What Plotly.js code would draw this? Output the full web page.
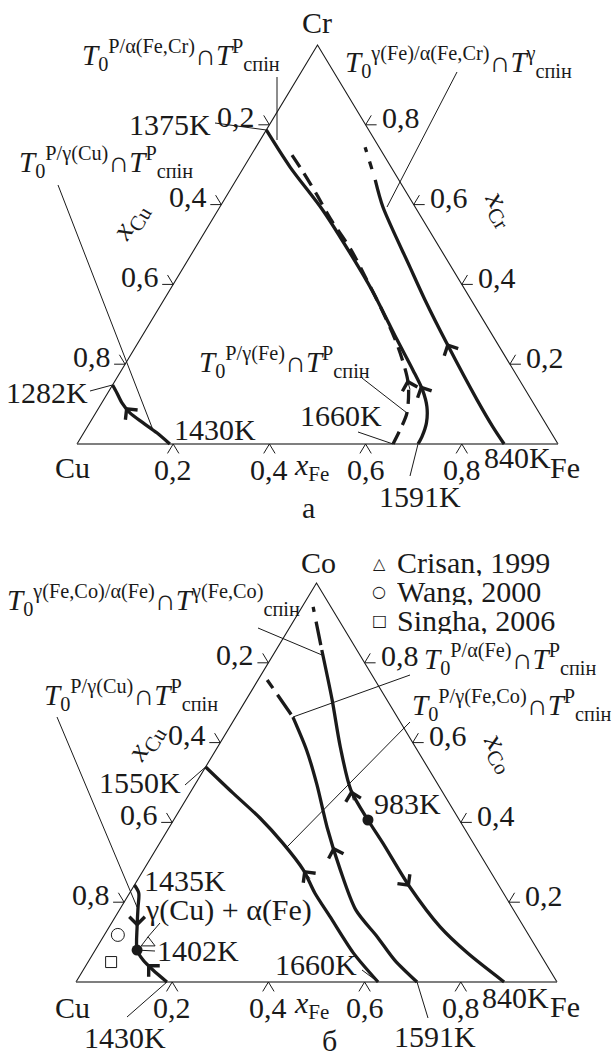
<!DOCTYPE html>
<html>
<head>
<meta charset="utf-8">
<script src="https://cdn.plot.ly/plotly-3.0.1.min.js"></script>
<style>html,body{margin:0;padding:0;background:#fff}</style>
</head>
<body>
<div id="chart" style="width:613px;height:1056px"></div>
<script>
// ---------- data: compositions in mole fractions ----------
const ticks = [0.2, 0.4, 0.6, 0.8];
const tickText = ['0,2', '0,4', '0,6', '0,8'];

// Panel а: Cu–Fe–Cr (second coordinate = x_Cr)
// T0^{P/α(Fe,Cr)} ∩ Tспін^P
const aPalpha_fe = [0.000, 0.096, 0.218, 0.328, 0.420, 0.535, 0.606, 0.651, 0.681, 0.700, 0.708, 0.709];
const aPalpha_cr = [0.787, 0.694, 0.586, 0.479, 0.386, 0.261, 0.185, 0.135, 0.093, 0.053, 0.018, 0.000];
// T0^{P/γ(Fe)} ∩ Tспін^P
const aPgammaFe_fe = [0.085, 0.129, 0.187, 0.243, 0.327, 0.397, 0.466, 0.546, 0.612, 0.647, 0.654, 0.657];
const aPgammaFe_cr = [0.724, 0.682, 0.624, 0.566, 0.486, 0.411, 0.336, 0.243, 0.153, 0.078, 0.035, 0.000];
// T0^{γ(Fe)/α(Fe,Cr)} ∩ Tспін^γ (with extrapolated part)
const aGammaAlpha_fe = [0.289, 0.339, 0.470, 0.543, 0.642, 0.777, 0.843, 0.888];
const aGammaAlpha_cr = [0.662, 0.594, 0.444, 0.361, 0.253, 0.110, 0.043, 0.000];
const aGammaAlphaExt_fe = [0.227, 0.289];
const aGammaAlphaExt_cr = [0.744, 0.662];
// T0^{P/γ(Cu)} ∩ Tспін^P
const aPgammaCu_fe = [0.000, 0.019, 0.042, 0.071, 0.111, 0.152, 0.193];
const aPgammaCu_cr = [0.148, 0.128, 0.103, 0.078, 0.053, 0.028, 0.000];

// Panel б: Cu–Fe–Co (second coordinate = x_Co)
// T0^{P/γ(Fe,Co)} ∩ Tспін^P
const bPgammaFeCo_fe = [0.000, 0.089, 0.177, 0.256, 0.332, 0.385, 0.447, 0.540, 0.628];
const bPgammaFeCo_co = [0.539, 0.474, 0.411, 0.348, 0.281, 0.223, 0.163, 0.073, 0.000];
// T0^{P/α(Fe)} ∩ Tспін^P
const bPalpha_fe = [0.119, 0.189, 0.254, 0.328, 0.409, 0.492, 0.570, 0.635, 0.709];
const bPalpha_co = [0.664, 0.581, 0.494, 0.388, 0.281, 0.180, 0.113, 0.055, 0.000];
const bPalphaExt_fe = [0.019, 0.119];
const bPalphaExt_co = [0.757, 0.664];
// T0^{γ(Fe,Co)/α(Fe)} ∩ Tспін^{γ(Fe,Co)}
const bGammaAlpha_fe = [0.095, 0.179, 0.255, 0.331, 0.404, 0.464, 0.575, 0.688, 0.777, 0.890];
const bGammaAlpha_co = [0.832, 0.707, 0.589, 0.481, 0.406, 0.348, 0.238, 0.138, 0.073, 0.000];
const bGammaAlphaExt_fe = [0.023, 0.095];
const bGammaAlphaExt_co = [0.940, 0.832];
// T0^{P/γ(Cu)} ∩ Tспін^P
const bPgammaCu_fe = [0.000, 0.019, 0.035, 0.058, 0.087, 0.112, 0.145, 0.189];
const bPgammaCu_co = [0.243, 0.223, 0.188, 0.138, 0.080, 0.055, 0.030, 0.000];
// special points (983K, 1402K)
const bSpecial_fe = [0.404, 0.087];
const bSpecial_co = [0.406, 0.080];
// experimental points
const crisan_fe = [0.101], crisan_co = [0.098];
const wang_fe = [0.028], wang_co = [0.118];
const singha_fe = [0.048], singha_co = [0.050];

// ---------- geometry ----------
const W = 613, H = 1056, PAD = 0.1;
const INK = '#1a1a1a';
const frames = [
  {x0: 77, x1: 558, yb: 444, yt: 45, xa: 'x', ya: 'y'},
  {x0: 76, x1: 557, yb: 982, yt: 583, xa: 'x2', ya: 'y2'}
];
// ternary composition -> cartesian axis coordinates
const proj = (fe, other) => [fe + other / 2, other];
const toPx = (f, fe, other) => {
  const p = proj(fe, other);
  return [f.x0 + p[0] * (f.x1 - f.x0), f.yb - p[1] * (f.yb - f.yt)];
};
const paper = (px, py) => [px / W, 1 - py / H];

const FONT = {family: 'Liberation Serif', size: 30, color: INK};
const LFONT = {family: 'Liberation Serif', size: 29, color: INK};

const traces = [];
function curve(fi, fe, ot, line, extra) {
  const f = frames[fi];
  const pts = fe.map((v, i) => proj(v, ot[i]));
  traces.push(Object.assign({
    type: 'scatter', mode: 'lines',
    x: pts.map(p => p[0]), y: pts.map(p => p[1]),
    xaxis: f.xa, yaxis: f.ya,
    line: Object.assign({color: INK, width: 3.3, shape: 'spline', smoothing: 0.8}, line || {}),
    hoverinfo: 'skip', showlegend: false, cliponaxis: false
  }, extra || {}));
}
function points(fi, fe, ot, marker) {
  const f = frames[fi];
  const pts = fe.map((v, i) => proj(v, ot[i]));
  traces.push({
    type: 'scatter', mode: 'markers',
    x: pts.map(p => p[0]), y: pts.map(p => p[1]),
    xaxis: f.xa, yaxis: f.ya, marker: marker,
    hoverinfo: 'skip', showlegend: false, cliponaxis: false
  });
}

// triangle frame and tick marks
frames.forEach((f, fi) => {
  const cu = proj(0, 0), fe = proj(1, 0), top = proj(0, 1);
  traces.push({type: 'scatter', mode: 'lines', x: [cu[0], top[0], fe[0]], y: [cu[1], top[1], fe[1]],
    xaxis: f.xa, yaxis: f.ya, line: {color: INK, width: 1.1}, hoverinfo: 'skip', showlegend: false, cliponaxis: false});
  traces.push({type: 'scatter', mode: 'lines', x: [cu[0], fe[0]], y: [cu[1], fe[1]],
    xaxis: f.xa, yaxis: f.ya, line: {color: '#555', width: 1.6}, hoverinfo: 'skip', showlegend: false, cliponaxis: false});
  const w = f.x1 - f.x0, h = f.yb - f.yt, L = 11;
  const s = L / Math.hypot(0.5 * w, h), hx = L / w;
  const xs = [], ys = [];
  const seg = (p, d) => { xs.push(p[0], p[0] + d[0], null); ys.push(p[1], p[1] + d[1], null); };
  ticks.forEach(v => {
    const b = proj(v, 0); seg(b, [-0.5 * s, -s]); seg(b, [0.5 * s, -s]);
    const l = proj(0, 1 - v); seg(l, [-hx, 0]); seg(l, [-0.5 * s, s]);
    const r = proj(1 - v, v); seg(r, [hx, 0]); seg(r, [0.5 * s, s]);
  });
  traces.push({type: 'scatter', mode: 'lines', x: xs, y: ys, xaxis: f.xa, yaxis: f.ya,
    line: {color: INK, width: 1}, hoverinfo: 'skip', showlegend: false, cliponaxis: false});
});

// panel а curves
curve(0, aPalpha_fe, aPalpha_cr);
curve(0, aPgammaFe_fe, aPgammaFe_cr, {dash: '14px,8px'});
curve(0, aGammaAlpha_fe, aGammaAlpha_cr);
curve(0, aGammaAlphaExt_fe, aGammaAlphaExt_cr, {dash: '5px,10px,8px,12px', shape: 'linear'});
curve(0, aPgammaCu_fe, aPgammaCu_cr);

// panel б curves
curve(1, bPgammaFeCo_fe, bPgammaFeCo_co);
curve(1, bPalpha_fe, bPalpha_co);
curve(1, bPalphaExt_fe, bPalphaExt_co, {dash: '10px,8px,24px,10px', shape: 'linear'});
curve(1, bGammaAlpha_fe, bGammaAlpha_co);
curve(1, bGammaAlphaExt_fe, bGammaAlphaExt_co, {dash: '5px,10px,24px,10px', shape: 'linear'});
curve(1, bPgammaCu_fe, bPgammaCu_co);
points(1, bSpecial_fe, bSpecial_co, {symbol: 'circle', size: 11, color: INK});
points(1, crisan_fe, crisan_co, {symbol: 'triangle-up-open', size: 12, color: INK, line: {width: 1, color: INK}});
points(1, wang_fe, wang_co, {symbol: 'circle-open', size: 13, color: INK, line: {width: 1, color: INK}});
points(1, singha_fe, singha_co, {symbol: 'square-open', size: 11, color: INK, line: {width: 1, color: INK}});

// ---------- annotations ----------
const annotations = [];
function txt(px, py, text, xanchor, extra) {
  const p = paper(px, py);
  annotations.push(Object.assign({xref: 'paper', yref: 'paper', x: p[0], y: p[1], text: text,
    showarrow: false, xanchor: xanchor || 'center', yanchor: 'middle', font: FONT}, extra || {}));
}
// tick labels
frames.forEach(f => {
  ticks.forEach((v, k) => {
    const b = proj(v, 0), l = proj(0, 1 - v), r = proj(1 - v, v);
    const base = {xref: f.xa, yref: f.ya, showarrow: false, text: tickText[k], font: FONT, yanchor: 'middle'};
    annotations.push(Object.assign({}, base, {x: b[0], y: b[1], xanchor: 'center', yshift: -25}));
    annotations.push(Object.assign({}, base, {x: l[0], y: l[1], xanchor: 'right', xshift: -12, yshift: 8}));
    annotations.push(Object.assign({}, base, {x: r[0], y: r[1], xanchor: 'left', xshift: 14, yshift: 7}));
  });
});
// direction chevrons along the curves
function chevron(fi, fe, ot, i, t, dir) {
  const f = frames[fi];
  const p0 = proj(fe[i], ot[i]), p1 = proj(fe[i + 1], ot[i + 1]);
  const hx = p0[0] + (p1[0] - p0[0]) * t, hy = p0[1] + (p1[1] - p0[1]) * t;
  let dx = p1[0] - p0[0], dy = p1[1] - p0[1];
  if (dir < 0) { dx = -dx; dy = -dy; }
  const k = 0.03 / Math.hypot(dx, dy);
  annotations.push({xref: f.xa, yref: f.ya, axref: f.xa, ayref: f.ya, x: hx, y: hy,
    ax: hx - dx * k, ay: hy - dy * k, text: '', showarrow: true,
    arrowhead: 4, arrowsize: 3, arrowwidth: 1, arrowcolor: INK});
}
chevron(0, aPalpha_fe, aPalpha_cr, 6, 0.75, -1);
chevron(0, aPgammaFe_fe, aPgammaFe_cr, 7, 0.9, -1);
chevron(0, aGammaAlpha_fe, aGammaAlpha_cr, 3, 1, -1);
chevron(0, aPgammaCu_fe, aPgammaCu_cr, 2, 0.4, -1);
chevron(1, bPgammaFeCo_fe, bPgammaFeCo_co, 3, 1, -1);
chevron(1, bPalpha_fe, bPalpha_co, 3, 0.45, -1);
chevron(1, bGammaAlpha_fe, bGammaAlpha_co, 2, 1, -1);
chevron(1, bGammaAlpha_fe, bGammaAlpha_co, 6, 0.0, 1);
chevron(1, bPgammaCu_fe, bPgammaCu_co, 3, 0.0, 1);
chevron(1, bPgammaCu_fe, bPgammaCu_co, 5, 0.4, -1);

const T = (sup0, supS) => '<i>T</i><sub>0</sub><sup>' + sup0 + '</sup>∩<i>T</i><sup>' + supS + '</sup><sub>спін</sub>';
const TL = {font: LFONT};

// panel а labels
txt(317, 22, 'Cr');
txt(80, 55, T('P/α(Fe,Cr)', 'P'), 'left', TL);
txt(343, 62, T('γ(Fe)/α(Fe,Cr)', 'γ'), 'left', TL);
txt(17, 162, T('P/γ(Cu)', 'P'), 'left', TL);
txt(197, 362, T('P/γ(Fe)', 'P'), 'left', TL);
txt(213, 124, '1375K', 'right');
txt(90, 392, '1282K', 'right');
txt(172, 429, '1430K', 'left');
txt(298, 415, '1660K', 'left');
txt(482, 457, '840K', 'left');
txt(377, 496, '1591K', 'left');
txt(72, 467, 'Cu');
txt(565, 468, 'Fe');
txt(311, 467, '<i>x</i><sub>Fe</sub>');
txt(130, 222, '<i>x</i><sub>Cu</sub>', 'center', {textangle: -59});
txt(500, 208, '<i>x</i><sub>Cr</sub>', 'center', {textangle: 59});
txt(308, 507, 'а');

// panel б labels
txt(318, 562, 'Co');
txt(5, 600, T('γ(Fe,Co)/α(Fe)', 'γ(Fe,Co)'), 'left', TL);
txt(42, 695, T('P/γ(Cu)', 'P'), 'left', TL);
txt(422, 659, T('P/α(Fe)', 'P'), 'left', {font: LFONT, height: 40});
txt(410, 705, T('P/γ(Fe,Co)', 'P'), 'left', {font: LFONT, height: 40});
txt(183, 782, '1550K', 'right');
txt(372, 803, '983K', 'left');
txt(142, 880, '1435K', 'left');
txt(143, 910, 'γ(Cu) + α(Fe)', 'left');
txt(155, 950, '1402K', 'left');
txt(273, 964, '1660K', 'left');
txt(480, 997, '840K', 'left');
txt(392, 1036, '1591K', 'left');
txt(82, 1037, '1430K', 'left');
txt(72, 1007, 'Cu');
txt(565, 1006, 'Fe');
txt(311, 1005, '<i>x</i><sub>Fe</sub>');
txt(145, 743, '<i>x</i><sub>Cu</sub>', 'center', {textangle: -59});
txt(500, 752, '<i>x</i><sub>Co</sub>', 'center', {textangle: 59});
txt(329, 1040, 'б');

// key for experimental points
const SYM = {family: 'DejaVu Sans', size: 16, color: INK};
const KEY = {height: 28};
txt(379, 563, '△', 'center', {font: SYM});
txt(379, 591, '○', 'center', {font: SYM});
txt(379, 620, '□', 'center', {font: SYM});
txt(395, 562, 'Crisan, 1999', 'left', KEY);
txt(395, 591, 'Wang, 2000', 'left', KEY);
txt(395, 620, 'Singha, 2006', 'left', KEY);

// ---------- leader lines ----------
const shapes = [];
function lead(px0, py0, px1, py1) {
  const a = paper(px0, py0), b = paper(px1, py1);
  shapes.push({type: 'line', xref: 'paper', yref: 'paper', x0: a[0], y0: a[1], x1: b[0], y1: b[1],
    line: {color: INK, width: 1}});
}
const end = (fi, fe, ot, i) => toPx(frames[fi], fe[i], ot[i]);
const last = a => a.length - 1;
// panel а
lead(277, 77, 277, 140);
lead(457, 72, 387, 207);
lead(58, 185, 153, 430);
lead(362, 378, 407, 413);
lead(215, 123, ...end(0, aPalpha_fe, aPalpha_cr, 0));
lead(90, 391, ...end(0, aPgammaCu_fe, aPgammaCu_cr, 0));
lead(358, 432, ...end(0, aPgammaFe_fe, aPgammaFe_cr, last(aPgammaFe_fe)));
lead(410, 476, ...end(0, aPalpha_fe, aPalpha_cr, last(aPalpha_fe)));
// panel б
lead(258, 628, 322, 655);
lead(57, 717, 137, 907);
lead(410, 675, 293, 717);
lead(410, 722, 287, 847);
lead(185, 785, ...end(1, bPgammaFeCo_fe, bPgammaFeCo_co, 0));
lead(362, 970, ...end(1, bPgammaFeCo_fe, bPgammaFeCo_co, last(bPgammaFeCo_fe)));
lead(428, 1018, ...end(1, bPalpha_fe, bPalpha_co, last(bPalpha_fe)));
lead(127, 1017, ...end(1, bPgammaCu_fe, bPgammaCu_co, last(bPgammaCu_fe)));
lead(160, 923, 147, 938);
lead(155, 951, ...end(1, bSpecial_fe, bSpecial_co, 1));

// ---------- axes ----------
const layout = {
  width: W, height: H, margin: {l: 0, r: 0, t: 0, b: 0},
  paper_bgcolor: '#fff', plot_bgcolor: 'rgba(0,0,0,0)',
  font: {family: 'Liberation Serif', size: 30, color: INK},
  showlegend: false, annotations: annotations, shapes: shapes
};
frames.forEach((f, fi) => {
  const w = f.x1 - f.x0, h = f.yb - f.yt;
  const sfx = fi === 0 ? '' : '2';
  layout['xaxis' + sfx] = {domain: [(f.x0 - PAD * w) / W, (f.x1 + PAD * w) / W], range: [-PAD, 1 + PAD],
    visible: false, fixedrange: true, anchor: 'y' + sfx};
  layout['yaxis' + sfx] = {domain: [1 - (f.yb + PAD * h) / H, 1 - (f.yt - PAD * h) / H], range: [-PAD, 1 + PAD],
    visible: false, fixedrange: true, anchor: 'x' + sfx};
});

Plotly.newPlot('chart', traces, layout, {staticPlot: true, displayModeBar: false});
</script>
</body>
</html>
